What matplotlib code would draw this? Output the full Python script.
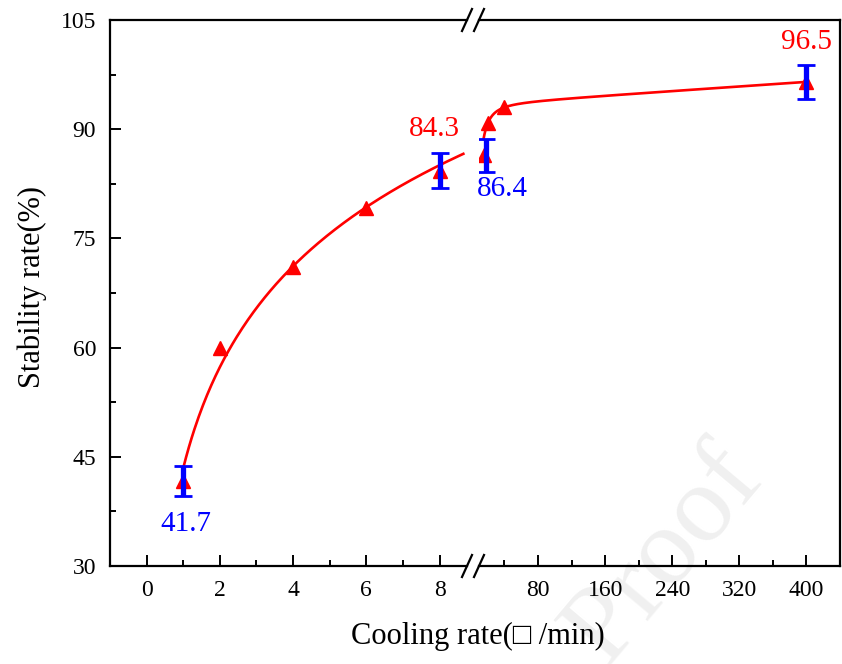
import numpy as np
import matplotlib
matplotlib.use("Agg")
import matplotlib.pyplot as plt

plt.rcParams['font.family'] = ['Liberation Serif', 'DejaVu Serif']

# data
left_x = [1, 2, 4, 6, 8]
left_y = [41.7, 60.0, 71.1, 79.2, 84.3]
right_x = [16, 20, 40, 400]
right_y = [86.4, 90.8, 93.0, 96.5]

err_left_x = [1, 8]
err_left_y = [41.7, 84.3]
err_left_e = [2.1, 2.4]
err_right_x = [18, 400]
err_right_y = [86.4, 96.5]
err_right_e = [2.3, 2.3]

left_ticks = [0, 2, 4, 6, 8]
right_ticks = [80, 160, 240, 320, 400]
y_ticks = [30, 45, 60, 75, 90, 105]

RED = '#ff0000'
BLUE = '#0000ff'

fig = plt.figure(figsize=(8.42, 6.64), dpi=100)
W, H = 842, 664
bot = (H - 566) / H
hgt = 546 / H
axL = fig.add_axes([110 / W, bot, (467 - 110) / W, hgt])
axR = fig.add_axes([479 / W, bot, (840 - 479) / W, hgt])
for ax in (axL, axR):
    ax.set_facecolor('none')
    ax.set_ylim(30, 105)
    for s in ax.spines.values():
        s.set_linewidth(1.6)
axL.set_xlim(-1, 8.75)
axR.set_xlim(9.6, 440)

axL.spines['right'].set_visible(False)
axR.spines['left'].set_visible(False)

# ticks
axL.set_xticks(left_ticks)
axL.set_xticks([1, 3, 5, 7], minor=True)
axR.set_xticks(right_ticks)
axR.set_xticks([40, 120, 200, 280, 360, 440], minor=True)
axL.set_yticks(y_ticks)
axL.set_yticks([37.5, 52.5, 67.5, 82.5, 97.5], minor=True)
axR.set_yticks([])
for ax in (axL, axR):
    ax.tick_params(which='major', direction='in', length=8, width=1.4,
                   labelsize=17, top=False, right=False, pad=10)
    ax.tick_params(which='minor', direction='in', length=4.5, width=1.4,
                   top=False, right=False)
axR.tick_params(axis='y', left=False, labelleft=False)

# fitted curves
xl = np.linspace(1, 8.65, 200)
cl = np.polyfit(np.log(left_x), left_y, 1)
axL.plot(xl, np.polyval(cl, np.log(xl)), color=RED, lw=1.9, zorder=2)

rx = np.array(right_x, float)
A = np.column_stack([np.ones_like(rx), rx, 1 / rx ** 2])
coef, *_ = np.linalg.lstsq(A[1:], np.array(right_y[1:]), rcond=None)
xr = np.linspace(15, 400, 400)
axR.plot(xr, coef[0] + coef[1] * xr + coef[2] / xr ** 2, color=RED, lw=1.9, zorder=2)

# markers
axL.plot(left_x, left_y, '^', color=RED, ms=10, mec=RED, zorder=3)
axR.plot(right_x, right_y, '^', color=RED, ms=10, mec=RED, zorder=3)

# error bars
axL.errorbar(err_left_x, err_left_y, yerr=err_left_e, fmt='none', ecolor=BLUE,
             elinewidth=3.8, capsize=6.5, capthick=2, zorder=4)
axR.errorbar(err_right_x, err_right_y, yerr=err_right_e, fmt='none', ecolor=BLUE,
             elinewidth=3.8, capsize=6.5, capthick=2, zorder=4)

# value labels
axL.annotate(f"{err_left_y[0]}", (err_left_x[0], err_left_y[0]), xytext=(2, -31),
             textcoords='offset points', ha='center', va='center', color=BLUE, fontsize=21)
axL.annotate(f"{err_left_y[1]}", (err_left_x[1], err_left_y[1]), xytext=(-4, 30),
             textcoords='offset points', ha='center', va='center', color=RED, fontsize=21)
axR.annotate(f"{err_right_y[0]}", (err_right_x[0], err_right_y[0]), xytext=(12, -24),
             textcoords='offset points', ha='center', va='center', color=BLUE, fontsize=21)
axR.annotate(f"{err_right_y[1]}", (err_right_x[1], err_right_y[1]), xytext=(0, 29),
             textcoords='offset points', ha='center', va='center', color=RED, fontsize=21)

# axis break marks
for yy in (20, 566):
    for xx in (467, 479):
        fig.add_artist(plt.Line2D([(xx - 5) / W, (xx + 5) / W],
                                  [1 - (yy + 11) / H, 1 - (yy - 11) / H],
                                  color='black', lw=1.6))

fig.text(32 / W, 1 - 287 / H, 'Stability rate(%)', rotation=90, ha='center',
         va='center', fontsize=22)
fig.text(478 / W, 1 - 636 / H, 'Cooling rate(\u25a1 /min)', ha='center',
         va='center', fontsize=22)

# faint watermark
fig.text(665 / W, 1 - 555 / H, 'Proof', rotation=50, ha='center', va='center',
         fontsize=80, color='#f0f0f0', zorder=-5)

fig.savefig('out.png', dpi=100)
